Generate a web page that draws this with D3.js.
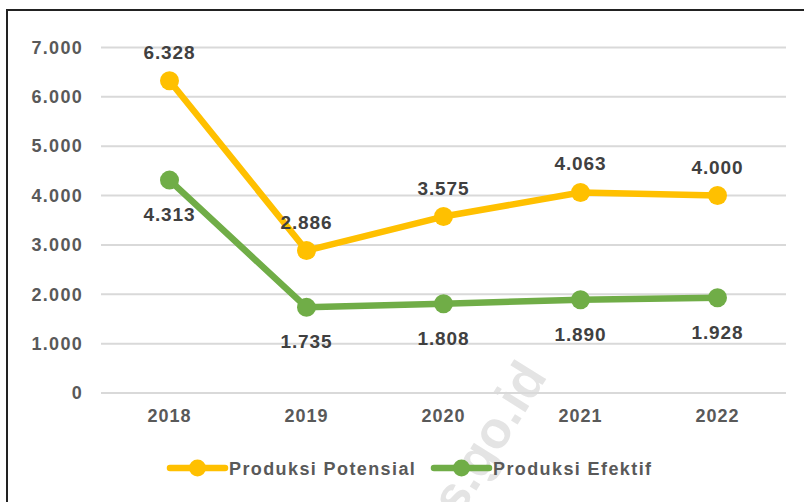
<!DOCTYPE html>
<html><head><meta charset="utf-8">
<script src="https://cdn.jsdelivr.net/npm/d3@7"></script>
<style>
html,body{margin:0;padding:0;background:#fff;}
svg{display:block;font-family:"Liberation Sans",Arial,sans-serif;}
</style></head>
<body><svg id="c" width="804" height="502"></svg>
<script>
const years = ["2018","2019","2020","2021","2022"];
const potensial = [6328, 2886, 3575, 4063, 4000];
const efektif = [4313, 1735, 1808, 1890, 1928];
const yTicks = [0,1000,2000,3000,4000,5000,6000,7000];
const seriesNames = ["Produksi Potensial","Produksi Efektif"];
const colors = ["#FFC000","#70AD47"];

const svg = d3.select("#c");
const fmt = v => v === 0 ? "0" : d3.format(",")(v).replace(/,/g,".");

// frame
svg.append("rect").attr("x",7).attr("y",10).attr("width",820).attr("height",520)
  .attr("fill","#fff").attr("stroke","#222").attr("stroke-width",2);

// watermark
svg.append("text").attr("transform","translate(548,376) rotate(-58)")
  .attr("text-anchor","end").attr("font-size",52).attr("font-weight","bold")
  .attr("fill","#e4e4e4").text("s.go.id");

const x = d3.scaleBand().domain(years).range([101,786]);
const y = d3.scaleLinear().domain([0,7000]).range([393,47.5]);

// gridlines
svg.append("g").selectAll("line").data(yTicks).join("line")
  .attr("x1",101).attr("x2",786).attr("y1",d=>y(d)).attr("y2",d=>y(d))
  .attr("stroke","#d9d9d9").attr("stroke-width",2);

// y axis
const ya = svg.append("g").attr("transform","translate(83,0)")
  .call(d3.axisLeft(y).tickValues(yTicks).tickFormat(fmt).tickSize(0).tickPadding(0));
ya.select(".domain").remove();
ya.selectAll("text").attr("font-size",18).attr("font-weight","bold")
  .attr("fill","#595959").attr("letter-spacing","1.3px").attr("font-family","Liberation Sans, Arial, sans-serif");

// x axis
const xa = svg.append("g").attr("transform","translate(0,409)")
  .call(d3.axisBottom(x).tickSize(0).tickPadding(0));
xa.select(".domain").remove();
xa.selectAll("text").attr("font-size",18).attr("font-weight","bold")
  .attr("fill","#595959").attr("letter-spacing","1px").attr("font-family","Liberation Sans, Arial, sans-serif");

const cx = d => x(d) + x.bandwidth()/2;
const data = [potensial, efektif];
const line = d3.line().x((d,i)=>cx(years[i])).y(d=>y(d));

data.forEach((s,k)=>{
  svg.append("path").datum(s).attr("d",line).attr("fill","none")
    .attr("stroke",colors[k]).attr("stroke-width",6.5).attr("stroke-linejoin","round");
  svg.append("g").selectAll("circle").data(s).join("circle")
    .attr("cx",(d,i)=>cx(years[i])).attr("cy",d=>y(d)).attr("r",9.5).attr("fill",colors[k]);
});

// data labels
svg.append("g").selectAll("text").data(potensial).join("text")
  .attr("x",(d,i)=>cx(years[i])).attr("y",d=>y(d)-22)
  .attr("text-anchor","middle").attr("font-size",19).attr("font-weight","bold")
  .attr("fill","#404040").attr("letter-spacing","0.9px").text(fmt);
svg.append("g").selectAll("text").data(efektif).join("text")
  .attr("x",(d,i)=>cx(years[i])).attr("y",d=>y(d)+41)
  .attr("text-anchor","middle").attr("font-size",19).attr("font-weight","bold")
  .attr("fill","#404040").attr("letter-spacing","0.9px").text(fmt);

// legend
const legX = [170, 434];
seriesNames.forEach((n,k)=>{
  const g = svg.append("g").attr("transform",`translate(${legX[k]},468)`);
  g.append("line").attr("x1",0).attr("x2",55).attr("stroke",colors[k]).attr("stroke-width",6.5).attr("stroke-linecap","round");
  g.append("circle").attr("cx",27.5).attr("r",8.5).attr("fill",colors[k]);
  g.append("text").attr("x",59).attr("y",6.5).attr("font-size",18).attr("font-weight","bold")
    .attr("fill","#595959").attr("letter-spacing","1.4px").text(n);
});
</script></body></html>
